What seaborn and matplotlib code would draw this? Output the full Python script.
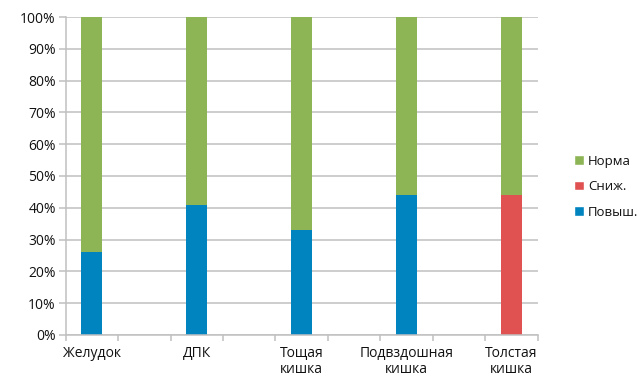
import matplotlib
matplotlib.use("Agg")
import matplotlib.pyplot as plt
from matplotlib.patches import Patch
import seaborn as sns
import pandas as pd
import numpy as np

categories = ["Желудок", "ДПК", "Тощая\nкишка", "Подвздошная\nкишка", "Толстая\nкишка"]
povysh = [26, 41, 33, 44, 0]   # Повыш.
snizh = [0, 0, 0, 0, 44]       # Сниж.
norma = [74, 59, 67, 56, 56]   # Норма
yticks = [0, 10, 20, 30, 40, 50, 60, 70, 80, 90, 100]
legend_labels = ["Норма", "Сниж.", "Повыш."]

GREEN = "#8db555"
RED = "#e05252"
BLUE = "#0084c0"
GRID = "#c0c0c0"
TXT = "#111111"

sns.set_style("white")
plt.rcParams["font.family"] = ["Open Sans", "DejaVu Sans"]

# build slot order: categories separated by empty slots
order = []
for i, c in enumerate(categories):
    order.append(c)
    if i < len(categories) - 1:
        order.append("_gap%d" % i)

df = pd.DataFrame({
    "cat": categories,
    "povysh": povysh,
    "snizh": snizh,
    "norma": norma,
})
df["lvl2"] = df["povysh"] + df["snizh"]
df["lvl3"] = df["lvl2"] + df["norma"]

fig = plt.figure(figsize=(6.41, 3.78), dpi=100)
ax = fig.add_axes([0.1023, 0.1138, 0.7367, 0.8412])

kw = dict(x="cat", order=order, width=0.4, ax=ax, edgecolor="none", linewidth=0, err_kws={"linewidth": 0})
sns.barplot(data=df, y="lvl3", color=GREEN, saturation=1, **kw)
sns.barplot(data=df, y="lvl2", color=RED, saturation=1, **kw)
sns.barplot(data=df, y="povysh", color=BLUE, saturation=1, **kw)

ax.set_xlim(-0.5, len(order) - 0.5)
ax.set_ylim(0, 100)
ax.set_yticks(yticks)
ax.set_yticklabels([f"{v}%" for v in yticks])
ax.yaxis.grid(True, color=GRID, linewidth=1.1)
ax.set_axisbelow(True)
ax.set_xlabel("")
ax.set_ylabel("")

# x ticks: labels at category centres, tick marks at slot boundaries
centers = [order.index(c) for c in categories]
ax.set_xticks(centers)
ax.set_xticklabels(categories, fontsize=10, color=TXT, linespacing=1.05)
ax.set_xticks(np.arange(-0.5, len(order), 1.0), minor=True)
ax.tick_params(axis="x", which="major", length=0, pad=8)
ax.tick_params(axis="x", which="minor", length=4.5, color=GRID, width=1.1, direction="out")
ax.tick_params(axis="y", length=5, color=GRID, width=1.1, direction="out", pad=2,
               labelsize=10, labelcolor=TXT)
ax.xaxis.set_tick_params(which="minor", bottom=True)
ax.yaxis.set_tick_params(left=True)

for s in ["top", "right"]:
    ax.spines[s].set_visible(False)
for s in ["left", "bottom"]:
    ax.spines[s].set_color(GRID)
    ax.spines[s].set_linewidth(1.1)

handles = [Patch(facecolor=GREEN), Patch(facecolor=RED), Patch(facecolor=BLUE)]
leg = fig.legend(handles, legend_labels, loc="center left", bbox_to_anchor=(0.896, 0.506),
                 frameon=False, handlelength=0.75, handleheight=0.75, handletextpad=0.3,
                 labelspacing=0.95, fontsize=9.5, borderpad=0, borderaxespad=0)
for t in leg.get_texts():
    t.set_color(TXT)

fig.savefig("out.png", dpi=100)
